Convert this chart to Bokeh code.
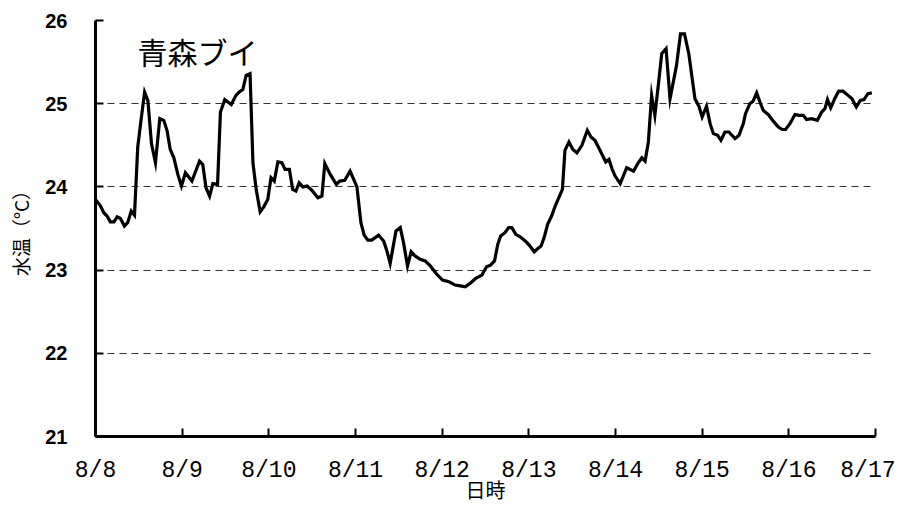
from bokeh.plotting import figure
from bokeh.models import FixedTicker, Label, Range1d
from bokeh.embed import file_html
from bokeh.resources import INLINE

# hours since 8/8 00:00
hours = [0, 1.4, 2.3, 3.2, 4.1, 5.1, 6.0, 6.9, 8.0, 8.9, 9.9, 10.8, 11.7, 12.6, 13.6, 14.5,
         15.5, 16.6, 17.8, 18.9, 19.8, 20.7, 21.7, 22.8, 23.8, 24.9, 26.7, 28.8, 29.7, 30.6,
         31.6, 32.5, 33.8, 34.6, 35.8, 37.6, 38.9, 39.8, 40.8, 41.7, 42.8, 43.6, 44.5, 45.6,
         46.6, 47.7, 48.6, 49.5, 50.5, 51.6, 52.5, 53.7, 54.6, 55.5, 56.4, 57.4, 58.6, 59.9,
         61.6, 62.7, 63.5, 65.0, 66.7, 67.6, 69.0, 70.5, 72.4, 73.5, 74.4, 75.4, 76.5, 78.4,
         79.8, 80.7, 81.6, 83.2, 84.4, 85.3, 86.4, 87.4, 88.5, 89.9, 91.3, 92.7, 94.5, 96.1,
         97.9, 99.6, 101.0, 102.4, 103.7, 105.3, 107.0, 108.3, 109.4, 110.5, 111.4, 112.2,
         113.4, 114.4, 115.3, 116.4, 117.6, 119.0, 120.1, 121.5, 122.5, 123.4, 124.3, 125.2,
         126.3, 127.3, 128.4, 129.3, 130.0, 131.1, 132.2, 133.3, 134.7, 136.2, 137.2, 138.3,
         139.7, 141.3, 142.2, 143.1, 143.9, 145.3, 147.1, 149.0, 150.3, 151.3, 152.2, 153.1,
         154.0, 154.9, 155.9, 156.8, 158.0, 159.1, 160.9, 162.0, 163.1, 164.3, 166.0, 167.1,
         168.0, 169.2, 170.2, 171.1, 172.3, 173.2, 174.3, 175.4, 177.1, 178.2, 179.4, 180.0,
         181.2, 182.1, 183.1, 184.0, 184.9, 186.3, 187.7, 189.1, 190.2, 191.1, 192.3, 193.7,
         194.8, 196.0, 196.9, 198.3, 199.9, 201.1, 202.0, 202.7, 203.6, 204.7, 205.8, 207.0,
         208.4, 209.5, 210.7, 211.8, 212.8, 213.9, 215.0]

temps = [23.85, 23.77, 23.69, 23.65, 23.58, 23.58, 23.64, 23.62, 23.53, 23.57, 23.71, 23.66,
         24.48, 24.80, 25.14, 25.04, 24.52, 24.29, 24.82, 24.80, 24.68, 24.45, 24.35, 24.15,
         24.01, 24.17, 24.07, 24.31, 24.27, 23.99, 23.89, 24.04, 24.03, 24.90, 25.05, 24.99,
         25.10, 25.14, 25.17, 25.34, 25.36, 24.29, 23.97, 23.70, 23.76, 23.85, 24.11, 24.07,
         24.30, 24.29, 24.21, 24.21, 23.97, 23.95, 24.05, 24.00, 24.01, 23.96, 23.87, 23.89,
         24.28, 24.15, 24.03, 24.07, 24.08, 24.19, 24.00, 23.57, 23.42, 23.36, 23.36, 23.42,
         23.35, 23.23, 23.08, 23.47, 23.51, 23.33, 23.05, 23.22, 23.17, 23.13, 23.11, 23.05,
         22.95, 22.88, 22.86, 22.82, 22.81, 22.80, 22.84, 22.90, 22.94, 23.04, 23.06, 23.11,
         23.31, 23.41, 23.45, 23.51, 23.51, 23.43, 23.40, 23.35, 23.30, 23.22, 23.26, 23.29,
         23.40, 23.55, 23.65, 23.77, 23.88, 23.97, 24.44, 24.54, 24.45, 24.41, 24.50, 24.68,
         24.60, 24.56, 24.44, 24.30, 24.33, 24.21, 24.13, 24.04, 24.23, 24.19, 24.29, 24.35,
         24.31, 24.54, 25.10, 24.86, 25.24, 25.60, 25.66, 25.06, 25.46, 25.84, 25.84, 25.60,
         25.06, 24.97, 24.84, 24.97, 24.76, 24.64, 24.62, 24.56, 24.66, 24.66, 24.58, 24.62,
         24.76, 24.88, 25.00, 25.03, 25.13, 25.02, 24.92, 24.87, 24.79, 24.72, 24.69, 24.69,
         24.76, 24.87, 24.86, 24.86, 24.81, 24.82, 24.80, 24.90, 24.94, 25.05, 24.95, 25.06,
         25.15, 25.15, 25.10, 25.06, 24.96, 25.04, 25.05, 25.12, 25.13]

x_ticks = [0, 24, 48, 72, 96, 120, 144, 168, 192, 216]
x_tick_labels = ["8/8", "8/9", "8/10", "8/11", "8/12", "8/13", "8/14", "8/15", "8/16", "8/17"]
y_ticks = [21, 22, 23, 24, 25, 26]

title_text = "青森ブイ"
x_label = "日時"
y_label = "水温（°C）"

MONO = "Liberation Mono, DejaVu Sans Mono, monospace"
JP = "Noto Sans CJK JP"

p = figure(width=895, height=506, output_backend="svg", toolbar_location=None,
           x_range=Range1d(0, 216), y_range=Range1d(21, 26),
           min_border_left=95, min_border_right=20, min_border_top=20, min_border_bottom=66)
p.outline_line_color = None
p.background_fill_color = "white"

p.line(hours, temps, line_color="black", line_width=3.2, line_join="miter")

# x axis
p.xaxis.ticker = FixedTicker(ticks=x_ticks)
p.xaxis.major_label_overrides = {t: l for t, l in zip(x_ticks, x_tick_labels)}
p.xaxis.axis_line_width = 3
p.xaxis.axis_line_color = "black"
p.xaxis.major_tick_in = 8
p.xaxis.major_tick_out = 0
p.xaxis.major_tick_line_width = 2
p.xaxis.major_tick_line_color = "black"
p.xaxis.minor_tick_line_color = None
p.xaxis.major_label_text_font = MONO
p.xaxis.major_label_text_font_size = "23px"
p.xaxis.major_label_text_color = "black"
p.xaxis.major_label_standoff = 21
p.xaxis.axis_label = x_label
p.xaxis.axis_label_text_font = JP
p.xaxis.axis_label_text_font_style = "normal"
p.xaxis.axis_label_text_font_size = "20px"
p.xaxis.axis_label_text_color = "black"
p.xaxis.axis_label_standoff = -12

# y axis
p.yaxis.ticker = FixedTicker(ticks=y_ticks)
p.yaxis.axis_line_width = 3
p.yaxis.axis_line_color = "black"
p.yaxis.major_tick_in = 8
p.yaxis.major_tick_out = 0
p.yaxis.major_tick_line_width = 2
p.yaxis.major_tick_line_color = "black"
p.yaxis.minor_tick_line_color = None
p.yaxis.major_label_text_font = "Liberation Sans"
p.yaxis.major_label_text_font_style = "bold"
p.yaxis.major_label_text_font_size = "20px"
p.yaxis.major_label_text_color = "black"
p.yaxis.major_label_standoff = 28
p.yaxis.axis_label = y_label
p.yaxis.axis_label_text_font = JP
p.yaxis.axis_label_text_font_style = "normal"
p.yaxis.axis_label_text_font_size = "19px"
p.yaxis.axis_label_text_color = "black"
p.yaxis.axis_label_standoff = 8

# grid
p.xgrid.grid_line_color = None
p.ygrid.grid_line_color = "#333333"
p.ygrid.grid_line_dash = "7 5"
p.ygrid.grid_line_width = 1

p.add_layout(Label(x=11.6, y=25.63, text=title_text, text_font=JP, text_font_size="30px",
                   text_color="black", text_align="left", text_baseline="middle"))

open("out.html", "w").write(file_html(p, INLINE))
